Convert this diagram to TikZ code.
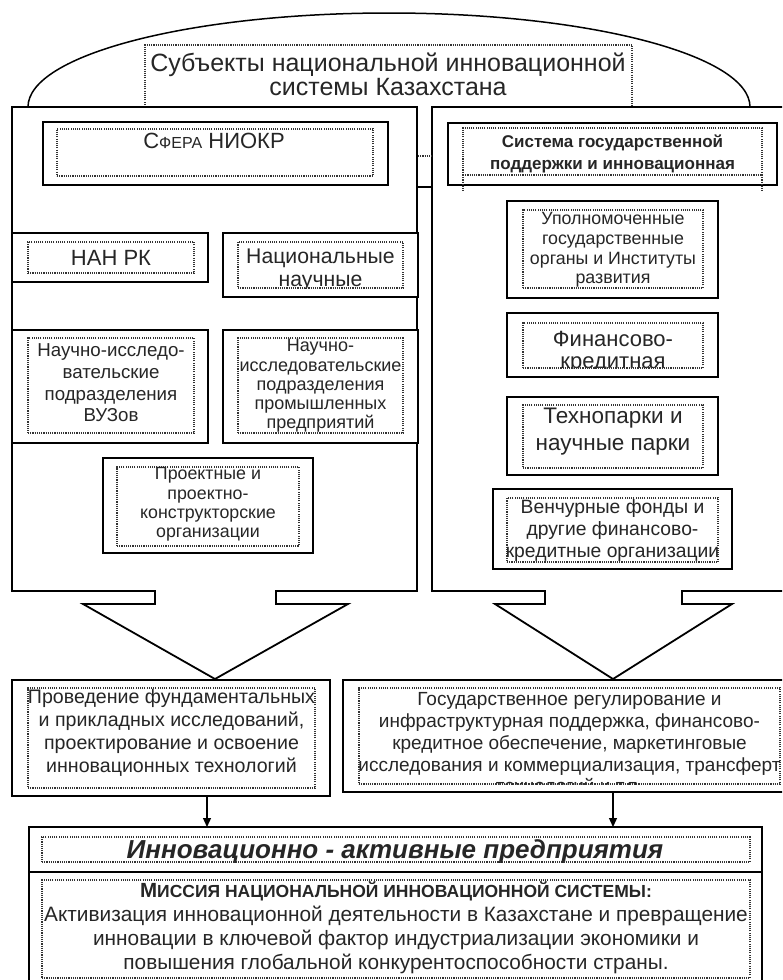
\documentclass[tikz,border=0pt]{standalone}
\usepackage{fontspec}
\setmainfont{Liberation Sans}
\usetikzlibrary{arrows.meta}

\newcommand{\fsz}[2]{\fontsize{#1}{#2}\selectfont}

\tikzset{
  frame/.style={draw=black, line width=1.8pt, line join=miter},
  solidbox/.style={draw=black, line width=1.8pt, fill=white, inner sep=0pt, outer sep=0pt, anchor=north west},
  dotbox/.style={draw=black!80, line width=1.1pt, dash pattern=on 1.1pt off 1.1pt, inner sep=0pt, outer sep=0pt, anchor=north west},
  dotline/.style={draw=black!80, line width=1.1pt, dash pattern=on 1.1pt off 1.1pt},
  txt/.style={inner sep=0pt, outer sep=0pt, align=center, text=black!85},
  link/.style={line width=1.3pt, -{Triangle[length=9pt,width=8pt]}},
}

\begin{document}
\begin{tikzpicture}[x=1pt,y=-1pt]
\useasboundingbox (0,0) rectangle (782,980);
\clip (0,0) rectangle (782,980);

% dome over the two sectors
\draw[line width=1.5pt] (28,107) .. controls (28,55.1) and (189.6,13) .. (389,13)
  .. controls (588.4,13) and (750,55.1) .. (750,107);

% title frame (open at the bottom)
\draw[dotline] (145,107) -- (145,45) -- (632,45) -- (632,107);
\node[txt, font=\fsz{25}{23.5}] (title) at (388,74.5) {Субъекты национальной инновационной\\системы Казахстана};

% left sector with its down arrow
\draw[frame] (12,107) -- (417,107) -- (417,591) -- (276,591) -- (276,604) -- (348,604)
  -- (215,679) -- (83,604) -- (155,604) -- (155,591) -- (12,591) -- cycle;
% right sector with its down arrow
\draw[frame] (432,107) -- (790,107) -- (790,591) -- (682,591) -- (682,604) -- (732,604)
  -- (613,679) -- (495,604) -- (545,604) -- (545,591) -- (432,591) -- cycle;

% small marks between the sectors
\draw[dotline] (418,156) -- (432,156);
\draw[line width=1.3pt] (418,187) -- (432,187);

% ---- left sector ----
\node[solidbox, minimum width=345pt, minimum height=63pt] (sf) at (43,122) {};
\node[dotbox, minimum width=316pt, minimum height=47pt] (sfd) at (57,129) {};
\node[txt, anchor=base] (sft) at (214,148) {\fsz{22}{24}С{\fsz{16}{18}ФЕРА} НИОКР};

\node[solidbox, minimum width=196pt, minimum height=49pt] (nan) at (12,233) {};
\node[dotbox, minimum width=166pt, minimum height=31pt] (nand) at (28,242) {};
\node[txt, font=\fsz{22}{24}] (nant) at (111,257.5) {НАН РК};

\node[solidbox, minimum width=195pt, minimum height=64pt] (nac) at (223,233) {};
\begin{scope}
  \clip (238,242) rectangle (403,288);
  \node[txt, font=\fsz{21.2}{23}] (nact) at (320.5,270) {Национальные\\научные};
\end{scope}
\node[dotbox, minimum width=165pt, minimum height=46pt] (nacd) at (238,242) {};

\node[solidbox, minimum width=196pt, minimum height=113pt] (vuz) at (12,330) {};
\node[dotbox, minimum width=166pt, minimum height=95pt] (vuzd) at (28,338) {};
\node[txt, font=\fsz{18.7}{21.7}] (vuzt) at (111,383) {Научно-исследо-\\вательские\\подразделения\\ВУЗов};

\node[solidbox, minimum width=195pt, minimum height=113pt] (prom) at (223,330) {};
\node[dotbox, minimum width=165pt, minimum height=95pt] (promd) at (238,338) {};
\node[txt, font=\fsz{18}{19.2}] (promt) at (320.5,386) {Научно-\\исследовательские\\подразделения\\промышленных\\предприятий};

\node[solidbox, minimum width=210pt, minimum height=95pt] (proj) at (103,458) {};
\node[dotbox, minimum width=182pt, minimum height=79pt] (projd) at (117,467) {};
\node[txt, font=\fsz{17.8}{19.3}] (projt) at (208,504.5) {Проектные и\\проектно-\\конструкторские\\организации};

% ---- right sector ----
\node[solidbox, minimum width=329pt, minimum height=62pt] (sys) at (448,123) {};
\node[dotbox, minimum width=299pt, minimum height=47pt] (sysd) at (463,128) {};
\draw[dotline] (sysd.south west) -- ++(0,16);
\draw[dotline] (sysd.south east) -- ++(0,16);
\node[txt, font=\bfseries\fsz{17}{22}] (syst) at (612.5,154) {Система государственной\\поддержки и инновационная};

\node[solidbox, minimum width=211pt, minimum height=97pt] (upol) at (507,201) {};
\node[dotbox, minimum width=180pt, minimum height=78pt] (upold) at (523,210) {};
\node[txt, font=\fsz{17.8}{19.7}] (upolt) at (613,250) {Уполномоченные\\государственные\\органы и Институты\\развития};

\node[solidbox, minimum width=211pt, minimum height=64pt] (fin) at (507,313) {};
\begin{scope}
  \clip (523,323) rectangle (703,368);
  \node[txt, font=\fsz{22}{22}] (fint) at (613,352.5) {Финансово-\\кредитная};
\end{scope}
\node[dotbox, minimum width=180pt, minimum height=45pt] (find) at (523,323) {};

\node[solidbox, minimum width=211pt, minimum height=78pt] (tech) at (507,397) {};
\node[dotbox, minimum width=180pt, minimum height=63pt] (techd) at (523,405) {};
\node[txt, font=\fsz{22.5}{27}] (techt) at (613,432) {Технопарки и\\научные парки};

\node[solidbox, minimum width=239pt, minimum height=80pt] (ven) at (493,489) {};
\node[dotbox, minimum width=211pt, minimum height=64pt] (vend) at (507,498) {};
\node[txt, font=\fsz{19.3}{22}] (vent) at (612.5,530.5) {Венчурные фонды и\\другие финансово-\\кредитные организации};

% ---- results of the two sectors ----
\node[solidbox, minimum width=318pt, minimum height=116pt] (res1) at (12,680) {};
\node[dotbox, minimum width=287pt, minimum height=100pt] (res1d) at (28,688) {};
\node[txt, font=\fsz{19.6}{23}] (res1t) at (171.5,733) {Проведение фундаментальных\\и прикладных исследований,\\проектирование и освоение\\инновационных технологий};

\node[solidbox, minimum width=447pt, minimum height=112pt] (res2) at (343,680) {};
\begin{scope}
  \clip (359,688) rectangle (780,784);
  \node[txt, font=\fsz{19}{21.75}] (res2t) at (569.5,743) {Государственное регулирование и\\инфраструктурная поддержка, финансово-\\кредитное обеспечение, маркетинговые\\исследования и коммерциализация, трансферт\\технологий и т.п.};
\end{scope}
\node[dotbox, minimum width=421pt, minimum height=96pt] (res2d) at (359,688) {};

% ---- enterprises and mission ----
\node[solidbox, minimum width=733pt, minimum height=45pt] (ent) at (29,827) {};
\begin{scope}
  \clip (42,837) rectangle (750,862);
  \node[txt, font=\bfseries\itshape\fsz{26}{27}] (entt) at (395,852) {Инновационно - активные предприятия};
\end{scope}
\node[dotbox, minimum width=708pt, minimum height=25pt] (entd) at (42,837) {};

\node[solidbox, minimum width=733pt, minimum height=130pt] (mis) at (29,872) {};
\node[dotbox, minimum width=708pt, minimum height=98pt] (misd) at (42,880) {};
\node[txt, font=\fsz{20.8}{24}] (mist) at (396,927.5) {{\bfseries\fsz{20.5}{24}М\fsz{17.5}{24}ИССИЯ НАЦИОНАЛЬНОЙ ИННОВАЦИОННОЙ СИСТЕМЫ:}\\
  Активизация инновационной деятельности в Казахстане и превращение\\
  инновации в ключевой фактор индустриализации экономики и\\
  повышения глобальной конкурентоспособности страны.};

% arrows from the results to the enterprises
\coordinate (a1) at (207,796);
\coordinate (a2) at (613,792);
\draw[link] (a1) -- (a1 |- ent.north);
\draw[link] (a2) -- (a2 |- ent.north);
\end{tikzpicture}
\end{document}
